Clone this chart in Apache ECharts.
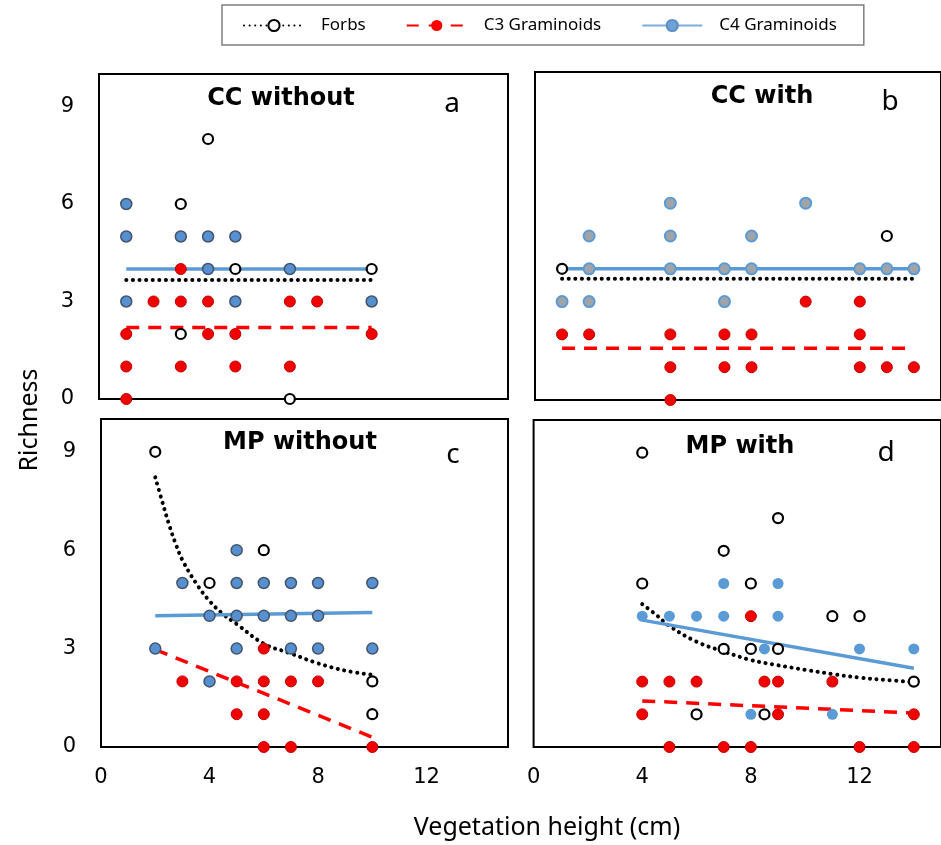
<!DOCTYPE html>
<html>
<head>
<meta charset="utf-8">
<script src="https://cdn.jsdelivr.net/npm/echarts@6/dist/echarts.min.js"></script>
<style>
  html, body { margin: 0; padding: 0; background: #fff; }
  #chart { width: 941px; height: 845px; }
</style>
</head>
<body>
<div id="chart"></div>
<script>
// tick labels
var xTicks = [0, 4, 8, 12];
var yTicks = [0, 3, 6, 9];

// a: CC without
var forbsA = [[4, 8], [3, 6], [5, 4], [10, 4], [3, 2], [7, 0]];
var c3A = [[3, 4], [2, 3], [3, 3], [4, 3], [7, 3], [8, 3], [1, 2], [4, 2], [5, 2], [10, 2], [1, 1], [3, 1], [5, 1], [7, 1], [1, 0]];
var c4A = [[1, 6], [1, 5], [3, 5], [4, 5], [5, 5], [4, 4], [7, 4], [1, 3], [5, 3], [10, 3]];
var forbsFitA = [[1, 3.66], [10, 3.66]];
var c3FitA = [[1, 2.2], [10, 2.2]];
var c4FitA = [[1, 4], [10, 4]];

// b: CC with
var forbsB = [[13, 5], [1, 4]];
var c3B = [[10, 3], [12, 3], [1, 2], [2, 2], [5, 2], [7, 2], [8, 2], [12, 2], [5, 1], [7, 1], [8, 1], [12, 1], [13, 1], [14, 1], [5, 0]];
var c4B = [[5, 6], [10, 6], [2, 5], [5, 5], [8, 5], [2, 4], [5, 4], [7, 4], [8, 4], [12, 4], [13, 4], [14, 4], [1, 3], [2, 3], [7, 3]];
var forbsFitB = [[1, 3.7], [14, 3.7]];
var c3FitB = [[1, 1.58], [14, 1.58]];
var c4FitB = [[1, 4], [14, 4]];

// c: MP without
var forbsC = [[2, 9], [6, 6], [4, 5], [10, 2], [10, 1]];
var c3C = [[6, 3], [3, 2], [5, 2], [6, 2], [7, 2], [8, 2], [5, 1], [6, 1], [6, 0], [7, 0], [10, 0]];
var c4C = [[5, 6], [3, 5], [5, 5], [6, 5], [7, 5], [8, 5], [10, 5], [4, 4], [5, 4], [6, 4], [7, 4], [8, 4], [2, 3], [5, 3], [7, 3], [8, 3], [10, 3], [4, 2]];
var forbsFitC = [[2, 8.22], [2.25, 7.5], [2.5, 6.8], [2.75, 6.2], [3, 5.7], [3.5, 5.0], [4, 4.45], [4.5, 4.05], [5, 3.75], [6, 3.15], [7, 2.85], [8, 2.55], [9, 2.33], [10, 2.2]];
var c3FitC = [[2, 2.97], [10, 0.3]];
var c4FitC = [[2, 4.0], [10, 4.1]];

// d: MP with
var forbsD = [[4, 9], [9, 7], [7, 6], [4, 5], [8, 5], [11, 4], [12, 4], [7, 3], [8, 3], [9, 3], [14, 2], [6, 1], [8.5, 1]];
var c3D = [[8, 4], [4, 2], [5, 2], [6, 2], [8.5, 2], [9, 2], [11, 2], [4, 1], [9, 1], [14, 1], [5, 0], [7, 0], [8, 0], [12, 0], [14, 0]];
var c4D = [[7, 5], [9, 5], [4, 4], [5, 4], [6, 4], [7, 4], [9, 4], [8.5, 3], [12, 3], [14, 3], [8, 1], [11, 1]];
var forbsFitD = [[4, 4.37], [4.5, 4.05], [5, 3.7], [6, 3.22], [7, 2.92], [8, 2.66], [9, 2.5], [10, 2.36], [11, 2.23], [12, 2.12], [13, 2.05], [14, 1.98]];
var c3FitD = [[4, 1.41], [14, 1.04]];
var c4FitD = [[4, 3.88], [14, 2.41]];

var BLUE = '#5B9BD5';
var RED = '#FF0000';

var forbsStyle = { color: '#fff', borderColor: '#000', borderWidth: 2.2, opacity: 1 };
var c3Style = { color: '#F00000', borderColor: '#C00000', borderWidth: 1, opacity: 1 };
var c4DarkStyle = { color: '#5690D0', borderColor: '#44546A', borderWidth: 1.5, opacity: 1 };
var c4GreyStyle = { color: '#A0A4A8', borderColor: '#5B9BD5', borderWidth: 2, opacity: 1 };
var c4PlainStyle = { color: BLUE, borderWidth: 0, opacity: 1 };

var dotLine = { color: '#000', width: 4, type: [0.1, 6.5], cap: 'round' };
var dashLine = { color: RED, width: 3.5, type: [13, 9] };
var solidLine = { color: BLUE, width: 3.5, type: 'solid' };

var grids = [
  { left: 99, top: 74, width: 409, height: 325 },
  { left: 535, top: 72, width: 414, height: 328 },
  { left: 101, top: 419, width: 407, height: 328 },
  { left: 533.6, top: 420, width: 414, height: 327 }
];

var tickFont = { fontFamily: 'DejaVu Sans', fontSize: 21, color: '#000' };

function xAx(i, labels) {
  return {
    type: 'value', gridIndex: i, min: 0, max: 15, interval: 4,
    axisLine: { show: false }, axisTick: { show: false }, splitLine: { show: false },
    axisLabel: Object.assign({ show: labels, margin: 20, customValues: xTicks }, tickFont)
  };
}
function yAx(i, labels) {
  return {
    type: 'value', gridIndex: i, min: 0, max: 10, interval: 3,
    axisLine: { show: false }, axisTick: { show: false }, splitLine: { show: false },
    axisLabel: Object.assign({ show: labels, margin: 25, customValues: yTicks }, tickFont)
  };
}

function pts(name, data, i, style, size) {
  return {
    name: name, type: 'scatter', xAxisIndex: i, yAxisIndex: i, data: data,
    symbol: 'circle', symbolSize: size, itemStyle: style, clip: false, z: 3,
    emphasis: { disabled: true }
  };
}
function fit(name, data, i, line, smooth) {
  return {
    name: name, type: 'line', xAxisIndex: i, yAxisIndex: i, data: data,
    showSymbol: false, symbol: 'none', smooth: smooth ? 0.4 : false, lineStyle: line,
    clip: false, z: 2, silent: true
  };
}

var series = [
  // legend entries only
  { name: 'Forbs', type: 'line', data: [], symbol: 'circle', symbolSize: 9, itemStyle: forbsStyle, lineStyle: { color: '#000', width: 3.5, type: [0.1, 5.5], cap: 'round' } },
  { name: 'C3 Graminoids', type: 'line', data: [], symbol: 'circle', symbolSize: 12, itemStyle: { color: RED, opacity: 1 }, lineStyle: { color: RED, width: 3.5, type: [12, 10] } },
  { name: 'C4 Graminoids', type: 'line', data: [], symbol: 'circle', symbolSize: 11, itemStyle: { color: '#6FA3D6', borderColor: '#5B8FC5', borderWidth: 1, opacity: 1 }, lineStyle: { color: '#7FAEDC', width: 3.5 } },

  fit('Forbs', forbsFitA, 0, dotLine), fit('C3 Graminoids', c3FitA, 0, dashLine), fit('C4 Graminoids', c4FitA, 0, solidLine),
  pts('C4 Graminoids', c4A, 0, c4DarkStyle, 11), pts('C3 Graminoids', c3A, 0, c3Style, 11), pts('Forbs', forbsA, 0, forbsStyle, 10),

  fit('Forbs', forbsFitB, 1, dotLine), fit('C3 Graminoids', c3FitB, 1, dashLine), fit('C4 Graminoids', c4FitB, 1, solidLine),
  pts('C4 Graminoids', c4B, 1, c4GreyStyle, 11), pts('C3 Graminoids', c3B, 1, c3Style, 11), pts('Forbs', forbsB, 1, forbsStyle, 10),

  fit('Forbs', forbsFitC, 2, dotLine, true), fit('C3 Graminoids', c3FitC, 2, dashLine), fit('C4 Graminoids', c4FitC, 2, solidLine),
  pts('C4 Graminoids', c4C, 2, c4DarkStyle, 11), pts('C3 Graminoids', c3C, 2, c3Style, 11), pts('Forbs', forbsC, 2, forbsStyle, 10),

  fit('Forbs', forbsFitD, 3, dotLine, true), fit('C3 Graminoids', c3FitD, 3, dashLine), fit('C4 Graminoids', c4FitD, 3, solidLine),
  pts('C4 Graminoids', c4D, 3, c4PlainStyle, 11), pts('C3 Graminoids', c3D, 3, c3Style, 11), pts('Forbs', forbsD, 3, forbsStyle, 10)
];

function label(text, x, y, font) {
  return {
    type: 'text', x: x, y: y, silent: true,
    style: Object.assign({ text: text, textAlign: 'center', textVerticalAlign: 'middle', fill: '#000' }, font)
  };
}
var titleFont = { font: 'bold 24px "DejaVu Sans"' };
var letterFont = { font: '28px "Noto Sans"' };

var chart = echarts.init(document.getElementById('chart'), null, { renderer: 'canvas' });
chart.setOption({
  animation: false,
  backgroundColor: '#fff',
  legend: {
    data: ['Forbs', 'C3 Graminoids', 'C4 Graminoids'],
    left: 222, top: 5,
    padding: [12, 27, 11, 21],
    itemWidth: 60, itemHeight: 14, itemGap: 40,
    borderColor: '#7F7F7F', borderWidth: 1.5,
    textStyle: { fontFamily: 'Noto Sans', fontSize: 17, color: '#000', padding: [0, 0, 0, 12] },
    selectedMode: false
  },
  grid: grids.map(function (g) {
    return Object.assign({ show: true, borderColor: '#000', borderWidth: 2, backgroundColor: 'transparent', containLabel: false }, g);
  }),
  xAxis: [xAx(0, false), xAx(1, false), xAx(2, true), xAx(3, true)],
  yAxis: [yAx(0, true), yAx(1, false), yAx(2, true), yAx(3, false)],
  series: series,
  graphic: [
    label('CC without', 281, 99, titleFont),
    label('a', 452, 104, letterFont),
    label('CC with', 762, 97, titleFont),
    label('b', 890, 102, letterFont),
    label('MP without', 300, 443, titleFont),
    label('c', 453, 455, letterFont),
    label('MP with', 740, 447, titleFont),
    label('d', 886, 453, letterFont),
    label('Vegetation height (cm)', 547, 828, { font: '25px "Noto Sans"' }),
    {
      type: 'text', x: 30, y: 420, rotation: Math.PI / 2, silent: true,
      style: { text: 'Richness', textAlign: 'center', textVerticalAlign: 'middle', fill: '#000', font: '25px "Noto Sans"' }
    }
  ]
});
</script>
</body>
</html>
